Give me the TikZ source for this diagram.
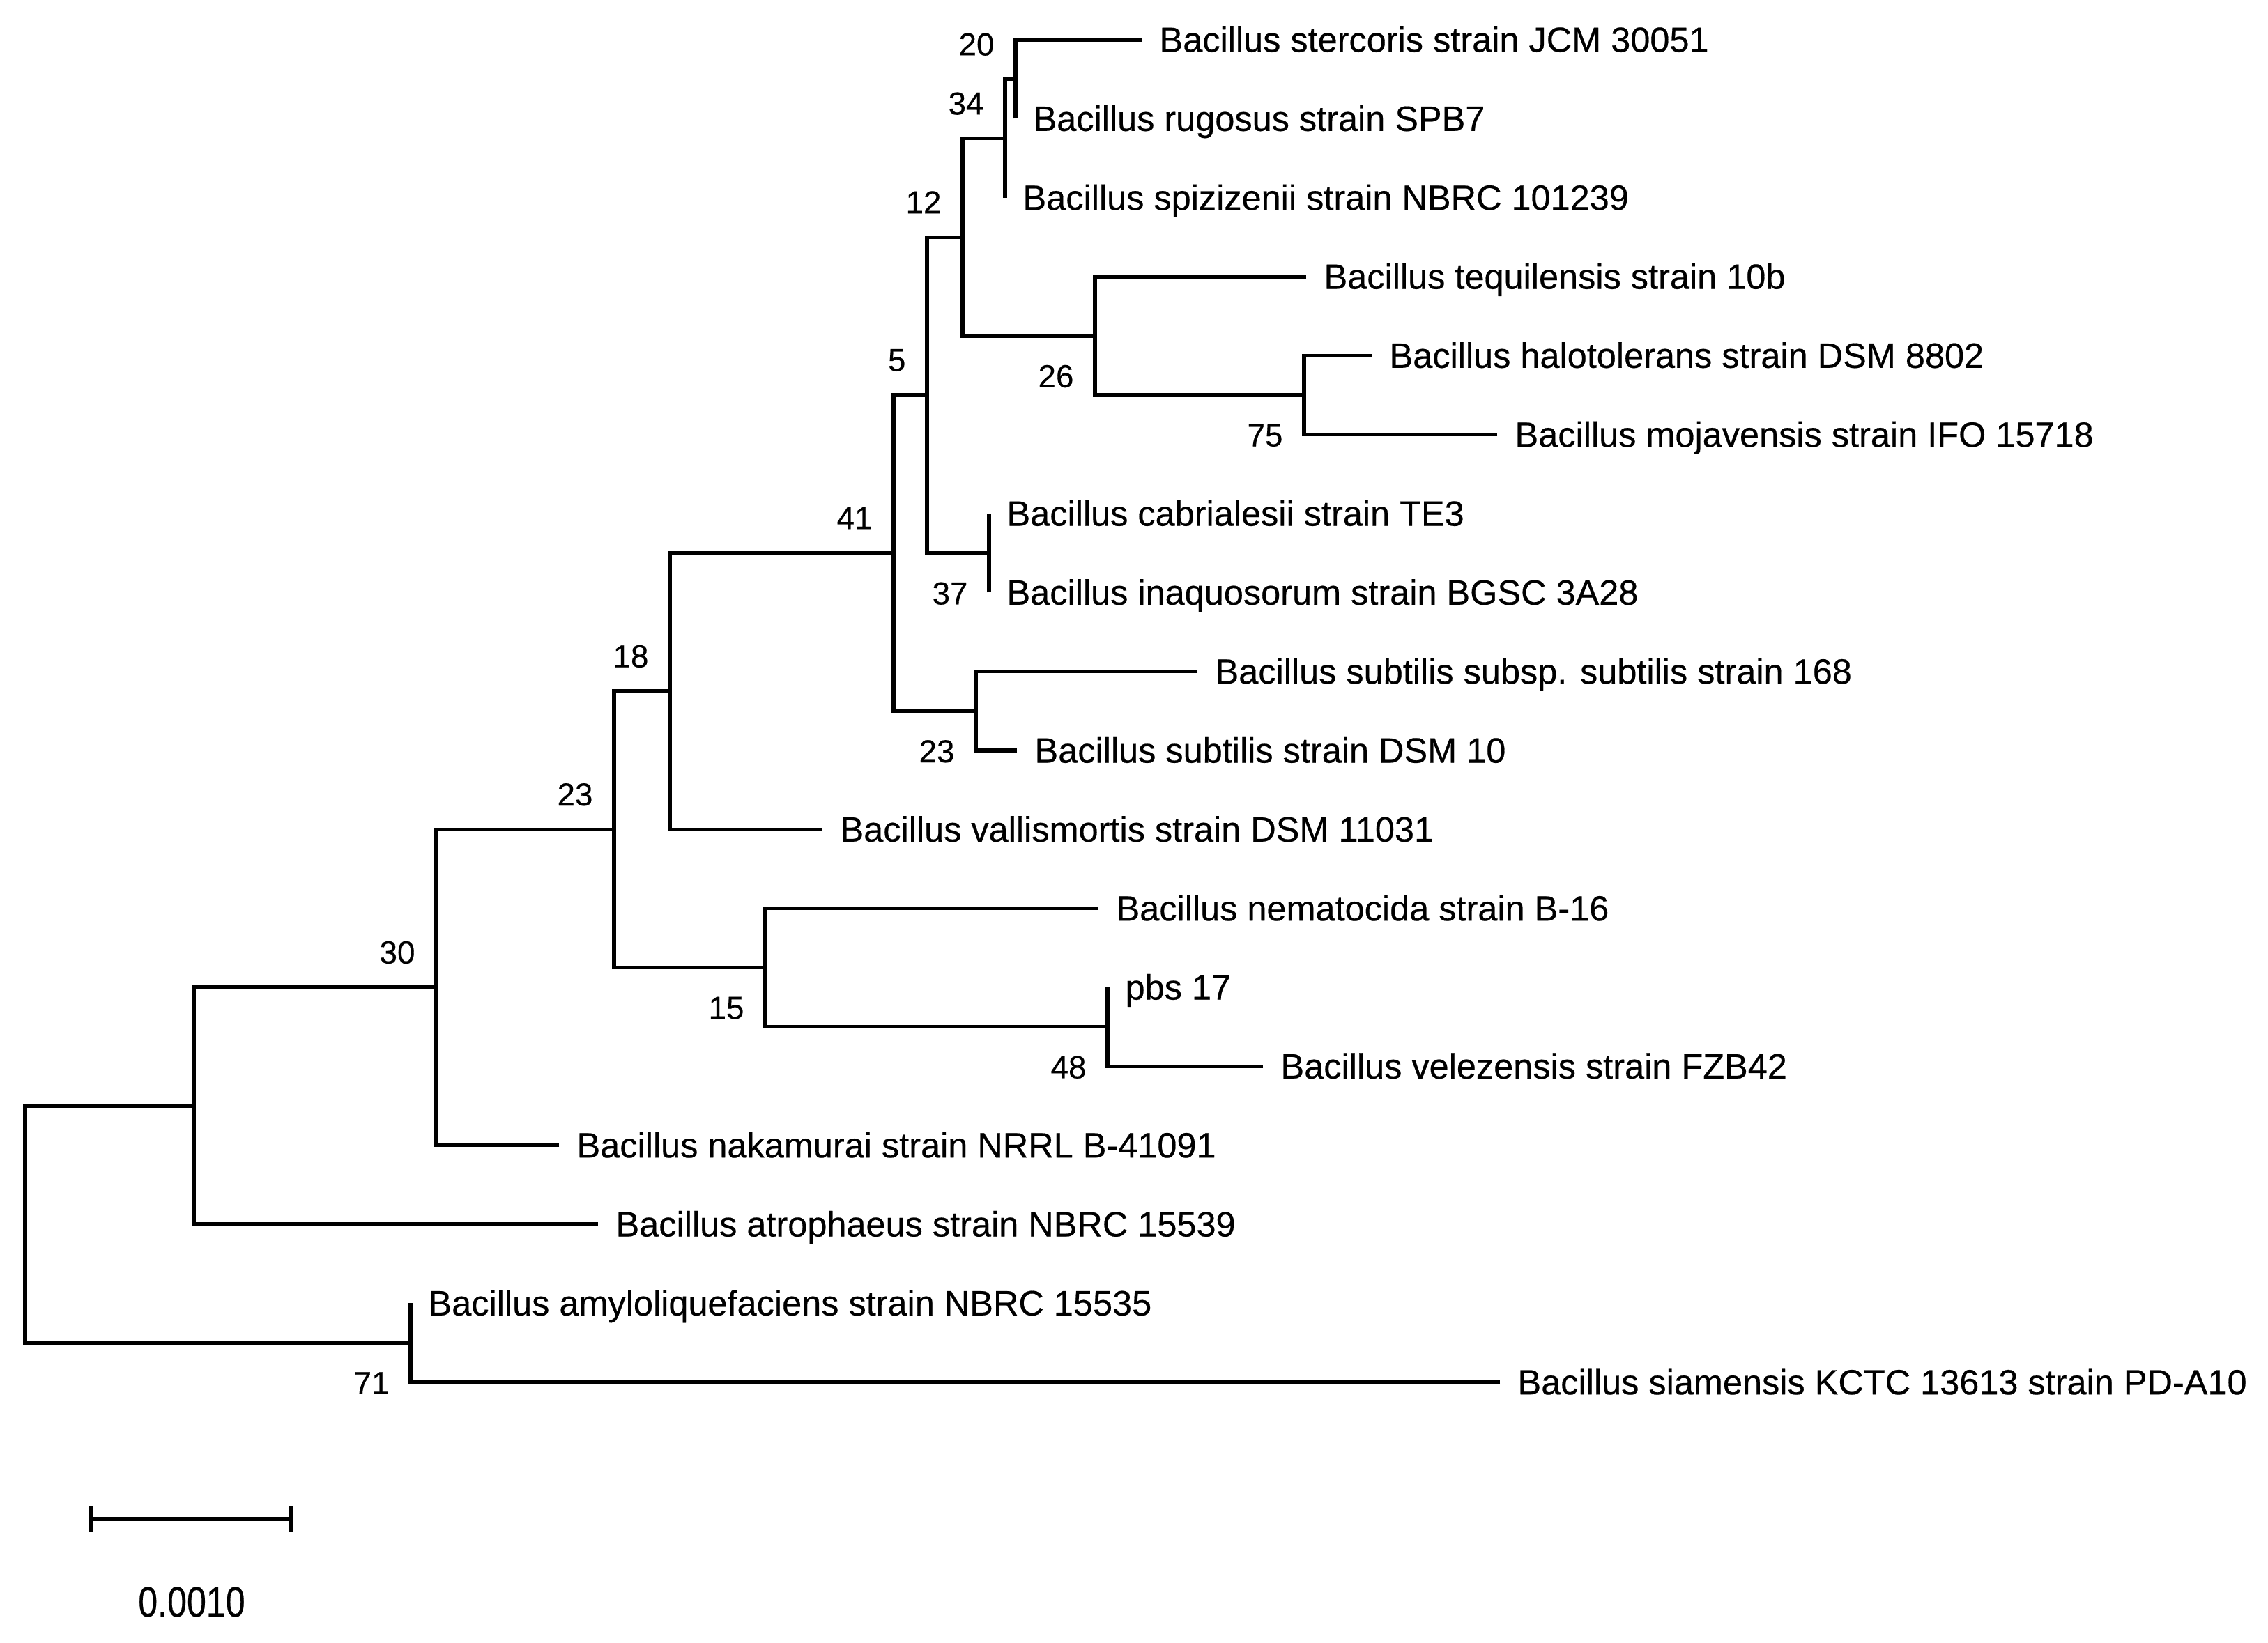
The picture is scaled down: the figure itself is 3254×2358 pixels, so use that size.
\documentclass[tikz,border=0pt]{standalone}
\usepackage{fontspec}
\setmainfont{Liberation Sans}[FakeBold=0.4]
\usepackage{graphicx}
\newcommand\leaffont{\fontsize{14.35pt}{17pt}\selectfont}
\newcommand\bsfont{\fontsize{13pt}{15pt}\selectfont}
\newcommand\sbfont{\fontsize{17.4pt}{20pt}\selectfont}
\begin{document}
\begin{tikzpicture}[x=0.01cm, y=-0.01cm, line width=1.45pt,
  leaflab/.style={anchor=base west, inner sep=0pt, xshift=0.23cm, yshift=-0.175cm, font=\leaffont},
  bsup/.style={anchor=east, inner sep=0pt, xshift=-0.28cm, yshift=0.50cm, font=\bsfont},
  bsdown/.style={anchor=east, inner sep=0pt, xshift=-0.28cm, yshift=-0.58cm, font=\bsfont},
  branch/.style={draw=black}]
\useasboundingbox (0,0) rectangle (3254,2358);
% internal nodes
\coordinate (root) at (36,1757);
\coordinate (n134) at (278,1587);
\coordinate (n302) at (626,1417);
\coordinate (n425) at (881,1190.3);
\coordinate (n463) at (961,992);
\coordinate (n528) at (1098,1388.7);
\coordinate (n618) at (1282,793.7);
\coordinate (n640) at (1330,567);
\coordinate (n675) at (1400,1020.3);
\coordinate (n665) at (1381,340.3);
\coordinate (n683) at (1419,793.7);
\coordinate (n695) at (1442,198.7);
\coordinate (n703) at (1457,113.7);
\coordinate (n757) at (1571,482);
\coordinate (n903) at (1871,567);
\coordinate (n766) at (1589,1473.7);
\coordinate (n284) at (589,1927);
% leaf ends
\coordinate (e1) at (1638,57);
\coordinate (e2) at (1457,170.3);
\coordinate (e3) at (1442,283.7);
\coordinate (e4) at (1874,397);
\coordinate (e5) at (1968,510.3);
\coordinate (e6) at (2148,623.7);
\coordinate (e7) at (1419,737);
\coordinate (e8) at (1419,850.3);
\coordinate (e9) at (1718,963.7);
\coordinate (e10) at (1459,1077);
\coordinate (e11) at (1180,1190.3);
\coordinate (e12) at (1576,1303.7);
\coordinate (e13) at (1589,1417);
\coordinate (e14) at (1812,1530.3);
\coordinate (e15) at (802,1643.7);
\coordinate (e16) at (858,1757);
\coordinate (e17) at (589,1870.3);
\coordinate (e18) at (2152,1983.7);
% branches
\draw[branch] (n134) -| (root);
\draw[branch] (n284) -| (root);
\draw[branch] (n302) -| (n134);
\draw[branch] (e16) -| (n134);
\draw[branch] (n425) -| (n302);
\draw[branch] (e15) -| (n302);
\draw[branch] (n463) -| (n425);
\draw[branch] (n528) -| (n425);
\draw[branch] (n618) -| (n463);
\draw[branch] (e11) -| (n463);
\draw[branch] (n640) -| (n618);
\draw[branch] (n675) -| (n618);
\draw[branch] (n665) -| (n640);
\draw[branch] (n683) -| (n640);
\draw[branch] (n695) -| (n665);
\draw[branch] (n757) -| (n665);
\draw[branch] (n703) -| (n695);
\draw[branch] (e3) -| (n695);
\draw[branch] (e1) -| (n703);
\draw[branch] (e2) -| (n703);
\draw[branch] (e4) -| (n757);
\draw[branch] (n903) -| (n757);
\draw[branch] (e5) -| (n903);
\draw[branch] (e6) -| (n903);
\draw[branch] (e7) -| (n683);
\draw[branch] (e8) -| (n683);
\draw[branch] (e9) -| (n675);
\draw[branch] (e10) -| (n675);
\draw[branch] (e12) -| (n528);
\draw[branch] (n766) -| (n528);
\draw[branch] (e13) -| (n766);
\draw[branch] (e14) -| (n766);
\draw[branch] (e17) -| (n284);
\draw[branch] (e18) -| (n284);
% leaf labels
\node[leaflab] (t1) at (e1) {Bacillus stercoris strain JCM 30051};
\node[leaflab] (t2) at (e2) {Bacillus rugosus strain SPB7};
\node[leaflab] (t3) at (e3) {Bacillus spizizenii strain NBRC 101239};
\node[leaflab] (t4) at (e4) {Bacillus tequilensis strain 10b};
\node[leaflab] (t5) at (e5) {Bacillus halotolerans strain DSM 8802};
\node[leaflab] (t6) at (e6) {Bacillus mojavensis strain IFO 15718};
\node[leaflab] (t7) at (e7) {Bacillus cabrialesii strain TE3};
\node[leaflab] (t8) at (e8) {Bacillus inaquosorum strain BGSC 3A28};
\node[leaflab] (t9) at (e9) {Bacillus subtilis subsp. subtilis strain 168};
\node[leaflab] (t10) at (e10) {Bacillus subtilis strain DSM 10};
\node[leaflab] (t11) at (e11) {Bacillus vallismortis strain DSM 11031};
\node[leaflab] (t12) at (e12) {Bacillus nematocida strain B-16};
\node[leaflab] (t13) at (e13) {pbs 17};
\node[leaflab] (t14) at (e14) {Bacillus velezensis strain FZB42};
\node[leaflab] (t15) at (e15) {Bacillus nakamurai strain NRRL B-41091};
\node[leaflab] (t16) at (e16) {Bacillus atrophaeus strain NBRC 15539};
\node[leaflab] (t17) at (e17) {Bacillus amyloliquefaciens strain NBRC 15535};
\node[leaflab] (t18) at (e18) {Bacillus siamensis KCTC 13613 strain PD-A10};
% bootstrap values
\node[bsup] (b703) at (n703) {20};
\node[bsup] (b695) at (n695) {34};
\node[bsup] (b665) at (n665) {12};
\node[bsup] (b640) at (n640) {5};
\node[bsup] (b618) at (n618) {41};
\node[bsup] (b463) at (n463) {18};
\node[bsup] (b425) at (n425) {23};
\node[bsup] (b302) at (n302) {30};
\node[bsdown] (b757) at (n757) {26};
\node[bsdown] (b903) at (n903) {75};
\node[bsdown] (b683) at (n683) {37};
\node[bsdown] (b675) at (n675) {23};
\node[bsdown] (b528) at (n528) {15};
\node[bsdown] (b766) at (n766) {48};
\node[bsdown] (b284) at (n284) {71};
% scale bar
\coordinate (sbL) at (130,2180);
\coordinate (sbR) at (418,2180);
\draw[branch] (sbL) -- (sbR);
\draw[branch] ([yshift=0.19cm]sbL) -- ([yshift=-0.19cm]sbL);
\draw[branch] ([yshift=0.19cm]sbR) -- ([yshift=-0.19cm]sbR);
\node[inner sep=0pt, font=\sbfont] (sblab) at (275,2299) {\scalebox{0.82}[1]{0.0010}};
\end{tikzpicture}
\end{document}
